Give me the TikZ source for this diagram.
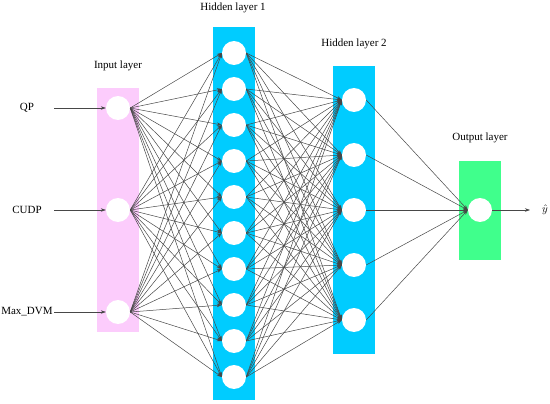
\documentclass[tikz,border=0pt]{standalone}
\usepackage{fontspec}
\setmainfont{Liberation Serif}
\usetikzlibrary{arrows.meta}
\definecolor{inpink}{RGB}{252,204,252}
\definecolor{hidblue}{RGB}{0,204,255}
\definecolor{outgreen}{RGB}{64,255,140}
\begin{document}
\begin{tikzpicture}[x=1pt, y=-1pt,
  layerbox/.style={rectangle, inner sep=0pt, minimum width=42pt},
  neuron/.style={circle, fill=white, inner sep=0pt, minimum size=24pt},
  link/.style={draw=black!72, line width=0.5pt, -{Stealth[length=5pt,width=3.5pt]}},
  every node/.style={font=\fontsize{11}{13}\selectfont},
]
\useasboundingbox (0,0) rectangle (550,404);
\node[layerbox, fill=inpink, minimum height=244pt] (inbox) at (118,210) {};
\node[layerbox, fill=hidblue, minimum height=373pt] (hboxa) at (234,213.5) {};
\node[layerbox, fill=hidblue, minimum height=288pt] (hboxb) at (354,210) {};
\node[layerbox, fill=outgreen, minimum height=99pt] (outbox) at (480,210.5) {};
\node (tin) at (118,66) {Input layer};
\node (tha) at (233,8) {Hidden layer 1};
\node (thb) at (354,44) {Hidden layer 2};
\node (tout) at (480,138) {Output layer};
\foreach \n/\y in {1/108, 2/210, 3/312}
  \node[neuron] (i\n) at (118,\y) {};
\foreach \n in {1,...,10}
  \node[neuron] (ha\n) at (234,{53+36*(\n-1)}) {};
\foreach \n in {1,...,5}
  \node[neuron] (hb\n) at (354,{100+55*(\n-1)}) {};
\node[neuron] (o) at (480,210) {};
\foreach \n/\t in {1/QP, 2/CUDP, 3/Max\_DVM} {
  \node (x\n) at (27,{108+102*(\n-1)}) {\t};
  \coordinate (s\n) at (54,{108+102*(\n-1)});
  \draw[link] (s\n) -- (i\n);
}
\foreach \a in {1,...,3}
  \foreach \b in {1,...,10}
    \draw[link] (i\a.east) -- (ha\b.west);
\foreach \a in {1,...,10}
  \foreach \b in {1,...,5}
    \draw[link] (ha\a.east) -- (hb\b.west);
\foreach \a in {1,...,5}
  \draw[link] (hb\a.east) -- (o.west);
\coordinate (yend) at (530,210);
\node (yhat) at (545,210) {$\hat{y}$};
\draw[link] (o.east) -- (yend);
\end{tikzpicture}
\end{document}
